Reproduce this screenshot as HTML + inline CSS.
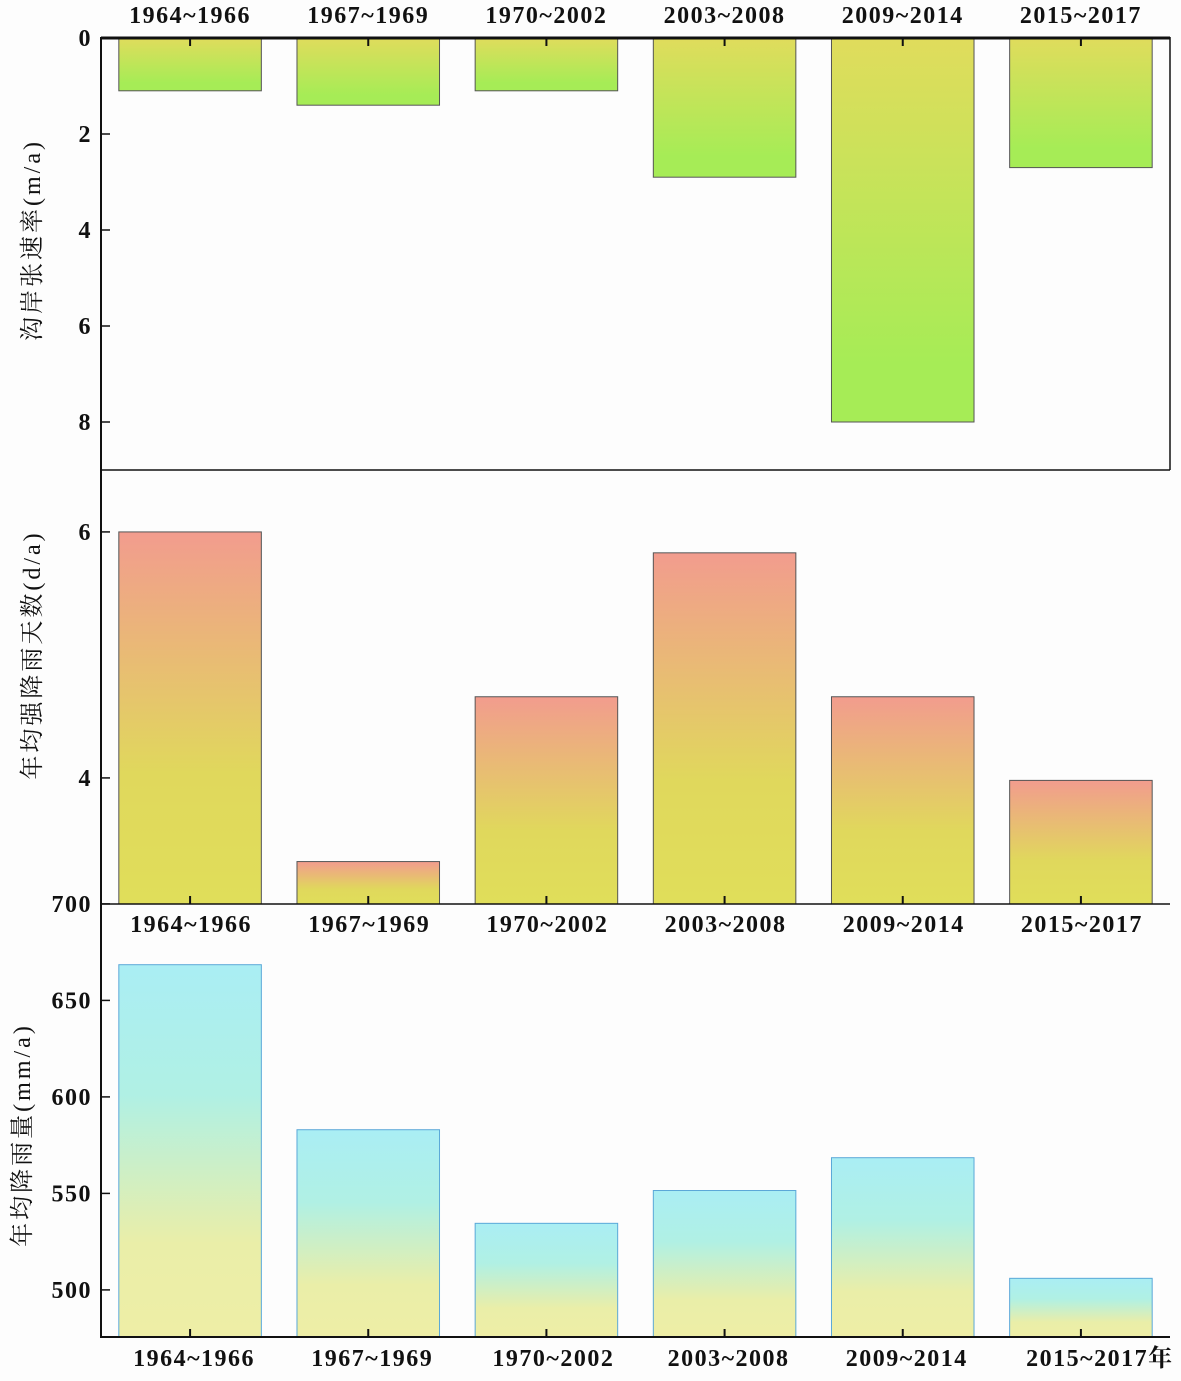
<!DOCTYPE html>
<html><head><meta charset="utf-8"><style>
body{margin:0;background:#fdfdfd;}
svg text{font-family:"Liberation Serif","Noto Serif CJK SC",serif;fill:#111;}
</style></head><body>
<svg id="c" width="1181" height="1376" xmlns="http://www.w3.org/2000/svg">
<defs>
<linearGradient id="gTop" x1="0" y1="0" x2="0" y2="1"><stop offset="0" stop-color="#e0dc5c"/><stop offset="0.85" stop-color="#a6ec56"/><stop offset="1" stop-color="#a6ec56"/></linearGradient>
<linearGradient id="gMid" x1="0" y1="0" x2="0" y2="1"><stop offset="0" stop-color="#f29c8e"/><stop offset="0.65" stop-color="#e0d85c"/><stop offset="1" stop-color="#e0de5a"/></linearGradient>
<linearGradient id="gBot" x1="0" y1="0" x2="0" y2="1"><stop offset="0" stop-color="#aaeef4"/><stop offset="0.35" stop-color="#b0f0e4"/><stop offset="0.75" stop-color="#eaeea8"/><stop offset="1" stop-color="#eeeea6"/></linearGradient>
</defs>
<g id="g"></g>
</svg>
<script>
const categories=["1964~1966","1967~1969","1970~2002","2003~2008","2009~2014","2015~2017"];
const erosionRate=[1.1,1.4,1.1,2.9,8.0,2.7];
const stormDays=[6.0,3.32,4.66,5.83,4.66,3.98];
const rainfall=[668.5,583,534.5,551.5,568.5,506];
const topTicks=[0,2,4,6,8];
const midTicks=[4,6];
const botTicks=[500,550,600,650,700];
const NS="http://www.w3.org/2000/svg";
const g=document.getElementById('g');
function el(t,a,txt){const e=document.createElementNS(NS,t);for(const k in a)e.setAttribute(k,a[k]);if(txt!==undefined)e.textContent=txt;g.appendChild(e);return e;}
const L=101,R=1170,band=(R-L)/6,bw=band*0.8;
const xC=i=>L+band*(i+0.5);
const yTop=v=>38+v*48;
const yMid=v=>904-(v-2.975)*123;
const yBot=v=>1337-(v-475.6)*1.93;
erosionRate.forEach((v,i)=>{const r=el('rect',{x:xC(i)-bw/2,y:yTop(0),width:bw,height:yTop(v)-yTop(0),fill:'url(#gTop)',stroke:'#555','stroke-width':1});
});
stormDays.forEach((v,i)=>{const r=el('rect',{x:xC(i)-bw/2,y:yMid(v),width:bw,height:904-yMid(v),fill:'url(#gMid)',stroke:'#555','stroke-width':1});
});
rainfall.forEach((v,i)=>{const r=el('rect',{x:xC(i)-bw/2,y:yBot(v),width:bw,height:1337-yBot(v),fill:'url(#gBot)',stroke:'#5aa8d8','stroke-width':1});
});
el('line',{x1:L,y1:38,x2:R,y2:38,stroke:'#111','stroke-width':3});
el('line',{x1:L,y1:37,x2:L,y2:1338,stroke:'#111','stroke-width':2});
el('line',{x1:R,y1:37,x2:R,y2:470,stroke:'#111','stroke-width':1.5});
el('line',{x1:L,y1:470,x2:R,y2:470,stroke:'#111','stroke-width':1.5});
el('line',{x1:L,y1:904,x2:R,y2:904,stroke:'#111','stroke-width':1.5});
el('line',{x1:L,y1:1337,x2:R,y2:1337,stroke:'#111','stroke-width':2});
const LS='1.5';
categories.forEach((c,i)=>{
 el('line',{x1:xC(i),y1:38,x2:xC(i),y2:46,stroke:'#111','stroke-width':2});
 el('line',{x1:xC(i),y1:904,x2:xC(i),y2:896,stroke:'#111','stroke-width':2});
 el('line',{x1:xC(i),y1:1337,x2:xC(i),y2:1329,stroke:'#111','stroke-width':2});
 const t1=el('text',{x:xC(i),y:23,'text-anchor':'middle','font-size':24,'font-weight':'bold','letter-spacing':LS},c);
 
 const t2=el('text',{x:xC(i)+1,y:932,'text-anchor':'middle','font-size':24,'font-weight':'bold','letter-spacing':LS},c);
 
 const t3=el('text',{x:xC(i)+4+(i==2?3:0)+(i==5?15:0),y:1366,'text-anchor':'middle','font-size':24,'font-weight':'bold','letter-spacing':LS},c+(i==5?'年':''));
 
});
function yt(vals,f,name){vals.forEach(v=>{const y=f(v);el('line',{x1:L,y1:y,x2:L+9,y2:y,stroke:'#111','stroke-width':1.5});
 const t=el('text',{x:92,y:y+8,'text-anchor':'end','font-size':24,'font-weight':'bold','letter-spacing':LS},v);
 });}
yt(topTicks,yTop,'erosion-y-tick-label');yt(midTicks,yMid,'storm-days-y-tick-label');yt(botTicks,yBot,'rainfall-y-tick-label');
function at(x,y,s,name){const t=el('text',{x:x,y:y,'text-anchor':'middle','font-size':24,'letter-spacing':'3',transform:`rotate(-90 ${x} ${y})`},s);
 }
at(40,240,'沟岸张速率(m/a)','erosion-y-axis-title');
at(40,655,'年均强降雨天数(d/a)','storm-days-y-axis-title');
at(30,1135,'年均降雨量(mm/a)','rainfall-y-axis-title');
</script>
</body></html>
